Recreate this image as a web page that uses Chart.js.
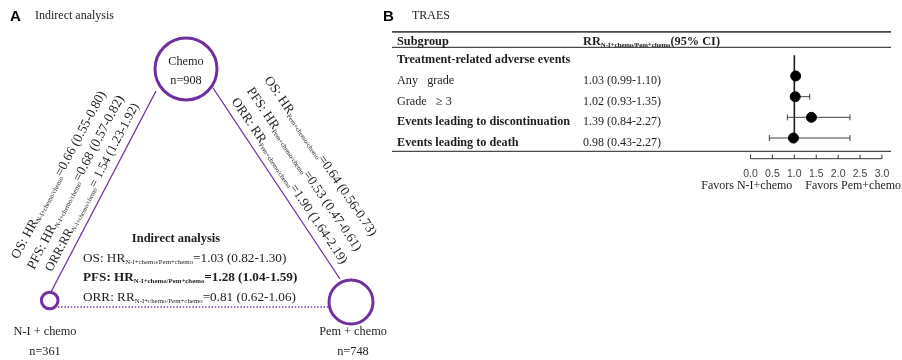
<!DOCTYPE html>
<html><head><meta charset="utf-8">
<script src="https://cdn.jsdelivr.net/npm/chart.js@4/dist/chart.umd.min.js"></script>
<style>
html,body{margin:0;padding:0;background:#fff;}
#wrap{position:relative;width:902px;height:360px;overflow:hidden;background:#fff;}
canvas{position:absolute;top:0;}
#cA{left:0;}
#cB{left:378px;}
</style></head><body>
<div id="wrap"><canvas id="cA" width="395" height="360"></canvas><canvas id="cB" width="524" height="360"></canvas></div>
<script>
// ---------- Panel A data ----------
const nodeNames = ['Chemo', 'N-I + chemo', 'Pem + chemo'];
const nodeN = [908, 361, 748];
const outcomes = ['OS', 'PFS', 'ORR'];
const measures = ['HR', 'HR', 'RR'];
const niVsChemo = [0.66, 0.68, 1.54];
const niVsChemoLo = [0.55, 0.57, 1.23];
const niVsChemoHi = [0.80, 0.82, 1.92];
const pemVsChemo = [0.64, 0.53, 1.90];
const pemVsChemoLo = [0.56, 0.47, 1.64];
const pemVsChemoHi = [0.73, 0.61, 2.19];
const indirect = [1.03, 1.28, 0.81];
const indirectLo = [0.82, 1.04, 0.62];
const indirectHi = [1.30, 1.59, 1.06];
// ---------- Panel B data ----------
const subgroups = ['Any   grade', 'Grade   \u2265 3', 'Events leading to discontinuation', 'Events leading to death'];
const subgroupBold = [false, false, true, true];
const rr = [1.03, 1.02, 1.39, 0.98];
const rrLo = [0.99, 0.93, 0.84, 0.43];
const rrHi = [1.10, 1.35, 2.27, 2.27];
const xTicks = [0.0, 0.5, 1.0, 1.5, 2.0, 2.5, 3.0];

// ---------- styles / layout ----------
const PURPLE = '#7030A0';
const INK = '#1e1e1e';
const SERIF = '"Liberation Serif", "Times New Roman", serif';
const SANS = '"Liberation Sans", Arial, sans-serif';
const f2 = v => v.toFixed(2);
const ciText = (v, lo, hi, sep) => '=' + (sep || '') + f2(v) + ' (' + f2(lo) + '-' + f2(hi) + ')';

const LA = {
  nodes: [{x:186,y:69,r:31},{x:49.7,y:300.5,r:8.3},{x:351,y:302,r:22}],
  edges: [{x1:156,y1:91,x2:51,y2:292,dash:[]},{x1:213,y1:88,x2:340,y2:279,dash:[]},{x1:58,y1:307,x2:328,y2:307,dash:[1.4,1.8]}],
  leftText: [[15,258,103,92],[31,268.5,121,96.3],[48.9,270.8,136,104]],
  rightText: [[267,77.7,373.7,235],[249.3,88.8,358.5,250],[234.1,99.3,344.5,263]],
  boxTitle: {x:176,y:239},
  boxLines: [[83,258.5,286.5],[83,278,297.5],[83,297.5,296]],
  nodeLabels: [{x:186,y:[62,81]},{x:45,y:[332,352]},{x:353,y:[332,352]}]
};

function drawRich(ctx, parts, x, y, o) {
  const fam = o.family || SERIF, ratio = o.subRatio || 0.56;
  const fontOf = (p, s) => (p.bold ? 'bold ' : '') + s.toFixed(2) + 'px ' + fam;
  const measure = s => { let w = 0; for (const p of parts) { ctx.font = fontOf(p, p.sub ? s * ratio : s); w += ctx.measureText(p.t).width; } return w; };
  let size = o.size || 12;
  if (o.length) size = size * o.length / measure(size);
  const w = measure(size);
  ctx.save();
  ctx.translate(x, y);
  ctx.rotate(o.angle || 0);
  ctx.fillStyle = o.color || INK;
  ctx.textBaseline = 'middle';
  ctx.textAlign = 'left';
  let cx = o.align === 'center' ? -w / 2 : (o.align === 'right' ? -w : 0);
  for (const p of parts) {
    const s = p.sub ? size * ratio : size;
    ctx.font = fontOf(p, s);
    ctx.fillText(p.t, cx, p.sub ? size * 0.27 : 0);
    cx += ctx.measureText(p.t).width;
  }
  ctx.restore();
}

// ---------- Chart A (network diagram) ----------
const textPluginA = {
  id: 'textA',
  afterDatasetsDraw(chart) {
    const ctx = chart.ctx, xs = chart.scales.x, ys = chart.scales.y;
    const P = (x, y) => [xs.getPixelForValue(x), ys.getPixelForValue(y)];
    ctx.save();
    ctx.fillStyle = '#000'; ctx.textBaseline = 'middle'; ctx.textAlign = 'left';
    ctx.font = 'bold 15px ' + SANS; ctx.fillText('A', 10, 17);
    ctx.fillStyle = INK; ctx.font = '12px ' + SERIF; ctx.fillText('Indirect analysis', 35, 16);
    ctx.textAlign = 'center';
    LA.nodeLabels.forEach((L, i) => {
      ctx.font = '12.3px ' + SERIF;
      const a = P(L.x, L.y[0]), b = P(L.x, L.y[1]);
      ctx.fillText(nodeNames[i], a[0], a[1]);
      ctx.fillText('n=' + nodeN[i], b[0], b[1]);
    });
    outcomes.forEach((o, i) => {
      const t = LA.leftText[i], s = P(t[0], t[1]), e = P(t[2], t[3]);
      const pre = o === 'ORR' ? 'ORR:' + measures[i] : o + ': ' + measures[i];
      drawRich(ctx, [{t: pre}, {t: 'N-I+chemo/chemo', sub: true}, {t: ciText(niVsChemo[i], niVsChemoLo[i], niVsChemoHi[i], o === 'ORR' ? ' ' : '')}],
        s[0], s[1], {angle: Math.atan2(e[1] - s[1], e[0] - s[0]), length: Math.hypot(e[0] - s[0], e[1] - s[1]), size: 12, subRatio: 0.5});
      const r = LA.rightText[i], rs = P(r[0], r[1]), re = P(r[2], r[3]);
      drawRich(ctx, [{t: o + ': ' + measures[i]}, {t: 'Pem+chemo/chemo', sub: true}, {t: ciText(pemVsChemo[i], pemVsChemoLo[i], pemVsChemoHi[i])}],
        rs[0], rs[1], {angle: Math.atan2(re[1] - rs[1], re[0] - rs[0]), length: Math.hypot(re[0] - rs[0], re[1] - rs[1]), size: 12, subRatio: 0.5});
    });
    const bt = P(LA.boxTitle.x, LA.boxTitle.y);
    ctx.fillStyle = INK; ctx.textAlign = 'center'; ctx.textBaseline = 'middle';
    ctx.font = 'bold 12.5px ' + SERIF; ctx.fillText('Indirect analysis', bt[0], bt[1]);
    outcomes.forEach((o, i) => {
      const L = LA.boxLines[i], s = P(L[0], L[1]), e = P(L[2], L[1]);
      const bold = o === 'PFS';
      drawRich(ctx, [{t: o + ': ' + measures[i], bold}, {t: 'N-I+chemo/Pem+chemo', sub: true, bold}, {t: ciText(indirect[i], indirectLo[i], indirectHi[i]), bold}],
        s[0], s[1], {length: e[0] - s[0], size: 12, subRatio: 0.52});
    });
    ctx.restore();
  }
};

const edgeSets = LA.edges.map(e => ({
  type: 'line', data: [{x: e.x1, y: e.y1}, {x: e.x2, y: e.y2}], showLine: true,
  borderColor: PURPLE, borderWidth: 1.3, borderDash: e.dash, pointRadius: 0, order: 2
}));
new Chart(document.getElementById('cA'), {
  type: 'scatter',
  data: {
    datasets: [
      ...edgeSets,
      {label: 'nodes', data: LA.nodes.map(n => ({x: n.x, y: n.y})), pointRadius: LA.nodes.map(n => n.r),
       pointBorderWidth: 3, pointBorderColor: PURPLE, pointBackgroundColor: '#fff', order: 1}
    ]
  },
  options: {
    responsive: false, animation: false, devicePixelRatio: 1, events: [],
    layout: {padding: 0, autoPadding: false},
    plugins: {legend: {display: false}, tooltip: {enabled: false}},
    scales: {
      x: {type: 'linear', min: 0, max: 395, display: false},
      y: {type: 'linear', min: 0, max: 360, reverse: true, display: false}
    }
  },
  plugins: [textPluginA]
});

// ---------- Chart B (forest plot) ----------
const OFF = 5;
const forestPlugin = {
  id: 'forest',
  beforeDatasetsDraw(chart) {
    const ctx = chart.ctx, xs = chart.scales.x, ys = chart.scales.y;
    const X = v => xs.getPixelForValue(v), Y = v => ys.getPixelForValue(v);
    ctx.save();
    ctx.strokeStyle = '#4a4a4a';
    [[-1.13, 1.8], [-0.38, 1.3], [4.65, 1.3]].forEach(([v, w]) => {
      ctx.lineWidth = w; ctx.beginPath(); ctx.moveTo(14, Y(v)); ctx.lineTo(513, Y(v)); ctx.stroke();
    });
    ctx.strokeStyle = '#1a1a1a'; ctx.lineWidth = 1.6;
    ctx.beginPath(); ctx.moveTo(X(1), Y(0)); ctx.lineTo(X(1), Y(4.25)); ctx.stroke();
    ctx.strokeStyle = '#444'; ctx.lineWidth = 1;
    rr.forEach((v, i) => {
      const y = Y(i + 1), a = X(rrLo[i]), b = X(rrHi[i]);
      ctx.beginPath();
      ctx.moveTo(a, y); ctx.lineTo(b, y);
      ctx.moveTo(a, y - 3); ctx.lineTo(a, y + 3);
      ctx.moveTo(b, y - 3); ctx.lineTo(b, y + 3);
      ctx.stroke();
    });
    const ay = Y(5);
    ctx.strokeStyle = '#333'; ctx.lineWidth = 1;
    ctx.beginPath(); ctx.moveTo(X(xTicks[0]), ay); ctx.lineTo(X(xTicks[xTicks.length - 1]), ay);
    xTicks.forEach(t => { ctx.moveTo(X(t), ay); ctx.lineTo(X(t), ay - 4); });
    ctx.stroke();
    ctx.restore();
  },
  afterDatasetsDraw(chart) {
    const ctx = chart.ctx, xs = chart.scales.x, ys = chart.scales.y;
    const X = v => xs.getPixelForValue(v), Y = v => ys.getPixelForValue(v);
    ctx.save();
    ctx.textBaseline = 'middle'; ctx.textAlign = 'left';
    ctx.fillStyle = '#000'; ctx.font = 'bold 15px ' + SANS; ctx.fillText('B', 5, 17);
    ctx.fillStyle = INK; ctx.font = '12px ' + SERIF; ctx.fillText('TRAES', 34, 16);
    const hy = Y(-0.64);
    ctx.font = 'bold 12.3px ' + SERIF; ctx.fillText('Subgroup', 19, hy);
    drawRich(ctx, [{t: 'RR', bold: true}, {t: 'N-I+chemo/Pem+chemo', sub: true, bold: true}, {t: '(95% CI)', bold: true}], 205, hy, {size: 12.3, subRatio: 0.55});
    ctx.fillStyle = INK;
    ctx.font = 'bold 12.2px ' + SERIF; ctx.fillText('Treatment-related adverse events', 19, Y(0) + OFF);
    subgroups.forEach((s, i) => {
      const y = Y(i + 1) + OFF;
      ctx.font = (subgroupBold[i] ? 'bold ' : '') + '12.2px ' + SERIF;
      ctx.fillText(s, 19, y);
      ctx.font = '12px ' + SERIF;
      ctx.fillText(f2(rr[i]) + ' (' + f2(rrLo[i]) + '-' + f2(rrHi[i]) + ')', 205, y);
    });
    const ay = Y(5);
    ctx.fillStyle = '#444'; ctx.font = '10.5px ' + SANS; ctx.textAlign = 'center';
    xTicks.forEach(t => ctx.fillText(t.toFixed(1), X(t), ay + 15));
    ctx.fillStyle = INK; ctx.font = '12px ' + SERIF;
    ctx.textAlign = 'right'; ctx.fillText('Favors N-I+chemo', X(1) - 2, ay + 27);
    ctx.textAlign = 'left'; ctx.fillText('Favors Pem+chemo', X(1) + 11, ay + 27);
    ctx.restore();
  }
};

new Chart(document.getElementById('cB'), {
  type: 'scatter',
  data: {
    datasets: [{
      label: 'RR', data: rr.map((v, i) => ({x: v, y: i + 1})),
      pointRadius: 5, pointBackgroundColor: '#000', pointBorderColor: '#000', pointBorderWidth: 1
    }]
  },
  options: {
    responsive: false, animation: false, devicePixelRatio: 1, events: [],
    layout: {padding: {left: 372.5, right: 20, top: 34.6, bottom: 201.3}, autoPadding: false},
    plugins: {legend: {display: false}, tooltip: {enabled: false}},
    scales: {
      x: {type: 'linear', min: 0, max: 3, display: false},
      y: {type: 'linear', min: -1, max: 5, reverse: true, display: false}
    }
  },
  plugins: [forestPlugin]
});
</script>
</body></html>
